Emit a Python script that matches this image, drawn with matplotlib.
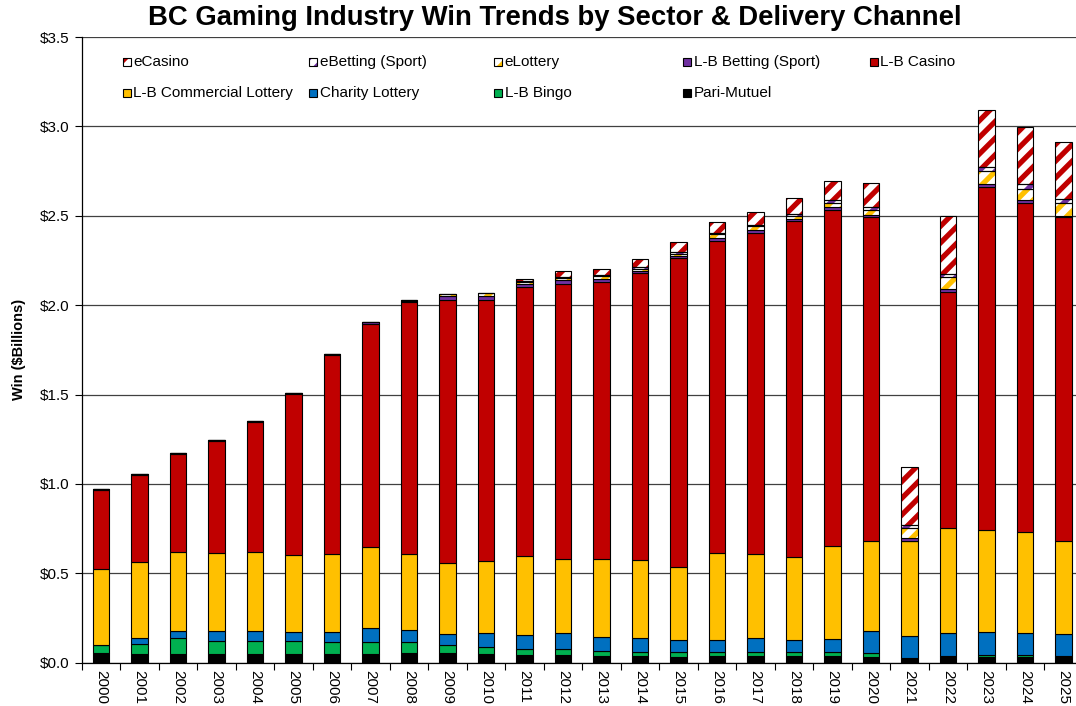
import matplotlib
matplotlib.use('Agg')
import matplotlib.pyplot as plt
import numpy as np
from matplotlib.patches import Rectangle

# Données (milliards de $)
years = [str(y) for y in range(2000, 2026)]

pari_mutuel = [0.053, 0.047, 0.049, 0.049, 0.049, 0.049, 0.051, 0.051, 0.053, 0.053, 0.049, 0.043, 0.041,
               0.039, 0.037, 0.034, 0.035, 0.037, 0.035, 0.035, 0.032, 0.026, 0.035, 0.032, 0.034, 0.032]
lb_bingo = [0.046, 0.059, 0.088, 0.071, 0.071, 0.071, 0.067, 0.063, 0.065, 0.044, 0.037, 0.035, 0.034,
            0.028, 0.023, 0.024, 0.023, 0.021, 0.023, 0.023, 0.021, 0.0, 0.002, 0.009, 0.007, 0.005]
charity_lottery = [0.0, 0.031, 0.039, 0.056, 0.059, 0.052, 0.054, 0.079, 0.063, 0.062, 0.079, 0.079, 0.090,
                   0.079, 0.080, 0.071, 0.071, 0.082, 0.067, 0.073, 0.125, 0.123, 0.131, 0.129, 0.125, 0.124]
lb_commercial_lottery = [0.426, 0.428, 0.441, 0.436, 0.438, 0.433, 0.438, 0.455, 0.429, 0.401, 0.403, 0.441, 0.413,
                         0.434, 0.434, 0.406, 0.486, 0.470, 0.465, 0.519, 0.502, 0.529, 0.587, 0.575, 0.564, 0.519]
lb_casino = [0.443, 0.487, 0.552, 0.630, 0.732, 0.900, 1.112, 1.247, 1.408, 1.467, 1.463, 1.504, 1.543,
             1.550, 1.606, 1.726, 1.746, 1.791, 1.880, 1.881, 1.812, 0.0, 1.317, 1.917, 1.843, 1.814]
lb_betting = [0.005, 0.005, 0.005, 0.005, 0.005, 0.005, 0.005, 0.011, 0.004, 0.022, 0.020, 0.017, 0.019,
              0.019, 0.012, 0.012, 0.015, 0.019, 0.012, 0.017, 0.015, 0.019, 0.019, 0.013, 0.015, 0.006]
e_lottery = [0.0, 0.0, 0.0, 0.0, 0.0, 0.0, 0.0, 0.0, 0.007, 0.012, 0.015, 0.011, 0.013,
             0.014, 0.013, 0.014, 0.020, 0.024, 0.018, 0.022, 0.028, 0.056, 0.065, 0.075, 0.063, 0.070]
e_betting = [0.0, 0.0, 0.0, 0.0, 0.0, 0.0, 0.0, 0.0, 0.0, 0.0, 0.0, 0.005, 0.003,
             0.003, 0.008, 0.011, 0.008, 0.004, 0.012, 0.016, 0.014, 0.015, 0.019, 0.022, 0.028, 0.025]
e_casino = [0.0, 0.0, 0.0, 0.0, 0.0, 0.0, 0.0, 0.0, 0.0, 0.0, 0.0, 0.014, 0.037,
            0.037, 0.046, 0.054, 0.062, 0.074, 0.088, 0.108, 0.133, 0.325, 0.323, 0.319, 0.317, 0.317]

# Séries empilées, du bas vers le haut : (nom, valeurs, couleur, hachures)
series = [
    ('Pari-Mutuel', pari_mutuel, '#000000', None),
    ('L-B Bingo', lb_bingo, '#00B050', None),
    ('Charity Lottery', charity_lottery, '#0070C0', None),
    ('L-B Commercial Lottery', lb_commercial_lottery, '#FFC000', None),
    ('L-B Casino', lb_casino, '#C00000', None),
    ('L-B Betting (Sport)', lb_betting, '#7030A0', None),
    ('eLottery', e_lottery, '#FFC000', '//'),
    ('eBetting (Sport)', e_betting, '#7030A0', '//'),
    ('eCasino', e_casino, '#C00000', '//'),
]

plt.rcParams['font.family'] = ['Liberation Sans', 'DejaVu Sans']
plt.rcParams['hatch.linewidth'] = 3.8

fig = plt.figure(figsize=(10.76, 7.06), dpi=100)
W, H = 1076, 706
ax = fig.add_axes([81.7 / W, 1 - 662.7 / H, 1001 / W, (662.7 - 37) / H])

x = np.arange(len(years))
width = 0.42
bottom = np.zeros(len(years))
for name, vals, color, hatch in series:
    vals = np.array(vals)
    if hatch is None:
        ax.bar(x, vals, width, bottom=bottom, color=color, edgecolor='black', linewidth=0.8, zorder=3)
    else:
        ax.bar(x, vals, width, bottom=bottom, facecolor='white', edgecolor=color, hatch=hatch,
               linewidth=0, zorder=3)
        ax.bar(x, vals, width, bottom=bottom, fill=False, edgecolor='black', linewidth=0.8, zorder=4)
    bottom += vals

# Axes
ax.set_xlim(-0.5, len(years) - 0.5)
ax.set_ylim(0, 3.5)
ax.set_yticks(np.arange(0, 3.51, 0.5))
ax.set_yticklabels(['$%.1f' % v for v in np.arange(0, 3.51, 0.5)], fontsize=11)
ax.set_xticks(x)
ax.set_xticklabels(years, rotation=270, fontsize=11)
ax.set_xticks(np.arange(-0.5, len(years), 1), minor=True)
ax.tick_params(axis='x', which='major', length=0, pad=5)
ax.tick_params(axis='x', which='minor', length=5, width=0.8, direction='out')
ax.tick_params(axis='y', length=5, width=0.8, direction='out', pad=4)
ax.yaxis.grid(True, color='#404040', linewidth=0.9, zorder=0)
ax.set_axisbelow(True)
for s in ['top', 'right']:
    ax.spines[s].set_visible(False)
ax.spines['left'].set_linewidth(0.9)
ax.spines['bottom'].set_linewidth(0.9)
ax.set_ylabel('Win ($Billions)', fontsize=10.5, fontweight='bold', labelpad=10)

# Titre
fig.text(555 / W, 1 - 18 / H, 'BC Gaming Industry Win Trends by Sector & Delivery Channel',
         fontsize=19.8, fontweight='bold', ha='center', va='center')

# Légende manuelle (disposition à la Excel)
legend_pos = {
    'eCasino': (122.7, 62.3), 'eBetting (Sport)': (309.3, 62.3), 'eLottery': (494.3, 62.3),
    'L-B Betting (Sport)': (683.3, 62.3), 'L-B Casino': (870, 62.3),
    'L-B Commercial Lottery': (122.7, 93.3), 'Charity Lottery': (309.3, 93.3),
    'L-B Bingo': (494.3, 93.3), 'Pari-Mutuel': (683.3, 93.3),
}
sq = 8
for name, vals, color, hatch in series:
    px, py = legend_pos[name]
    rx, ry = px / W, 1 - (py + sq / 2) / H
    if hatch is None:
        fig.add_artist(Rectangle((rx, ry), sq / W, sq / H, transform=fig.transFigure,
                                 facecolor=color, edgecolor='black', linewidth=0.8))
    else:
        fig.add_artist(Rectangle((rx, ry), sq / W, sq / H, transform=fig.transFigure,
                                 facecolor='white', edgecolor=color, hatch=hatch, linewidth=0))
        fig.add_artist(Rectangle((rx, ry), sq / W, sq / H, transform=fig.transFigure,
                                 fill=False, edgecolor='black', linewidth=0.8))
    fig.text((px + sq + 2.5) / W, 1 - py / H, name, fontsize=11, ha='left', va='center')

fig.savefig('out.png', dpi=100)
